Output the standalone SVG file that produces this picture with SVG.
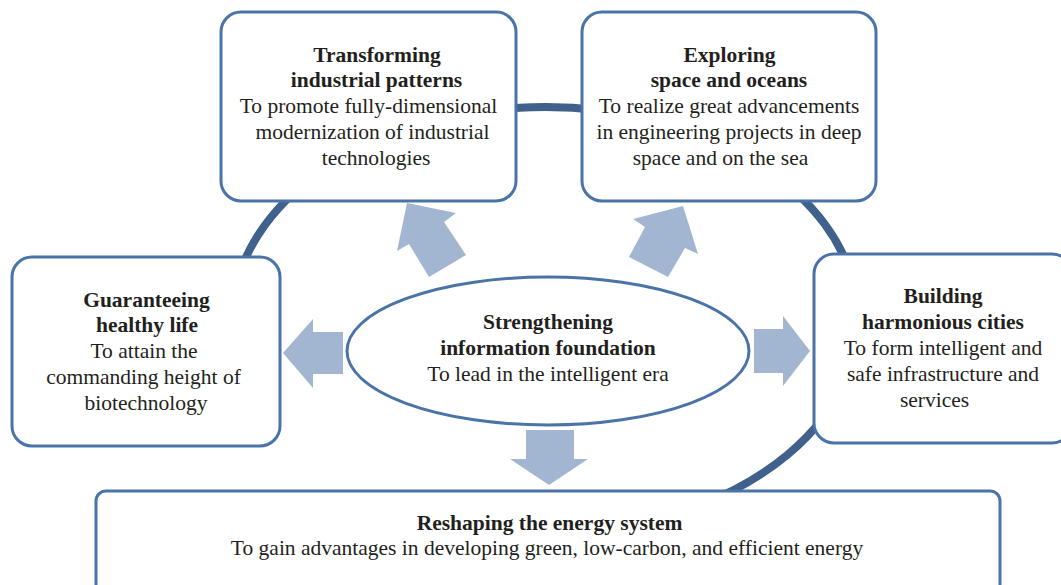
<svg xmlns="http://www.w3.org/2000/svg" width="1061" height="585" viewBox="0 0 1061 585">
  <style>
    .box { fill: #ffffff; stroke: #4a74a8; stroke-width: 3; }
    .ring { fill: none; stroke: #3f618c; stroke-width: 8; }
    .arrow { fill: #a2b6d1; stroke: none; }
    text { font-family: "Liberation Serif", "Times New Roman", serif; font-size: 21.5px; fill: #231f20; text-anchor: middle; }
    .title { font-weight: bold; }
  </style>
  <rect width="1061" height="585" fill="#ffffff"/>

  <!-- background ring linking the outer goals -->
  <g id="ring">
    <path class="ring" d="M 701.5 504.5 A 313 213 0 1 0 251 392.8"/>
  </g>

  <g id="node-industry">
    <rect class="box" x="221" y="12" width="295" height="189" rx="20"/>
    <text class="title" x="377" y="62">Transforming</text>
    <text class="title" x="376.5" y="87">industrial patterns</text>
    <text x="368.5" y="113">To promote fully-dimensional</text>
    <text x="372.5" y="139">modernization of industrial</text>
    <text x="376" y="165">technologies</text>
  </g>

  <g id="node-space">
    <rect class="box" x="582" y="12" width="294" height="189" rx="20"/>
    <text class="title" x="729.5" y="62">Exploring</text>
    <text class="title" x="729" y="87">space and oceans</text>
    <text x="729" y="113">To realize great advancements</text>
    <text x="729" y="139">in engineering projects in deep</text>
    <text x="720.5" y="165">space and on the sea</text>
  </g>

  <g id="node-health">
    <rect class="box" x="12" y="257" width="268" height="189" rx="20"/>
    <text class="title" x="146.5" y="307">Guaranteeing</text>
    <text class="title" x="147" y="332">healthy life</text>
    <text x="144" y="358">To attain the</text>
    <text x="143.5" y="384">commanding height of</text>
    <text x="146" y="410">biotechnology</text>
  </g>

  <g id="node-cities">
    <rect class="box" x="814" y="254" width="258" height="189" rx="20"/>
    <text class="title" x="943" y="303">Building</text>
    <text class="title" x="943" y="329">harmonious cities</text>
    <text x="943" y="355">To form intelligent and</text>
    <text x="943" y="381">safe infrastructure and</text>
    <text x="934.5" y="407">services</text>
  </g>

  <g id="node-energy">
    <rect class="box" x="96" y="491" width="904" height="130" rx="10"/>
    <text class="title" x="549.5" y="530">Reshaping the energy system</text>
    <text x="547" y="555">To gain advantages in developing green, low-carbon, and efficient energy</text>
  </g>

  <g id="node-information">
    <ellipse class="box" cx="548" cy="351" rx="201" ry="74"/>
    <text class="title" x="548" y="329">Strengthening</text>
    <text class="title" x="548" y="355">information foundation</text>
    <text x="548" y="381">To lead in the intelligent era</text>
  </g>

  <g id="connectors">
    <polygon class="arrow" points="283,353 313,319 313,332 343,332 343,374 313,374 313,388"/>
    <polygon class="arrow" points="810,351 783,316 783,329 754,329 754,373 783,373 783,386"/>
    <polygon class="arrow" points="549,485 510,459 526,459 526,430 574,430 574,459 588,459"/>
    <polygon class="arrow" points="407,203 456,213 444,222 466,255 429,277 409,244 397,251"/>
    <polygon class="arrow" points="683,206 633,219 645,227 629,257 668,277 685,248 698,254"/>
  </g>
</svg>
